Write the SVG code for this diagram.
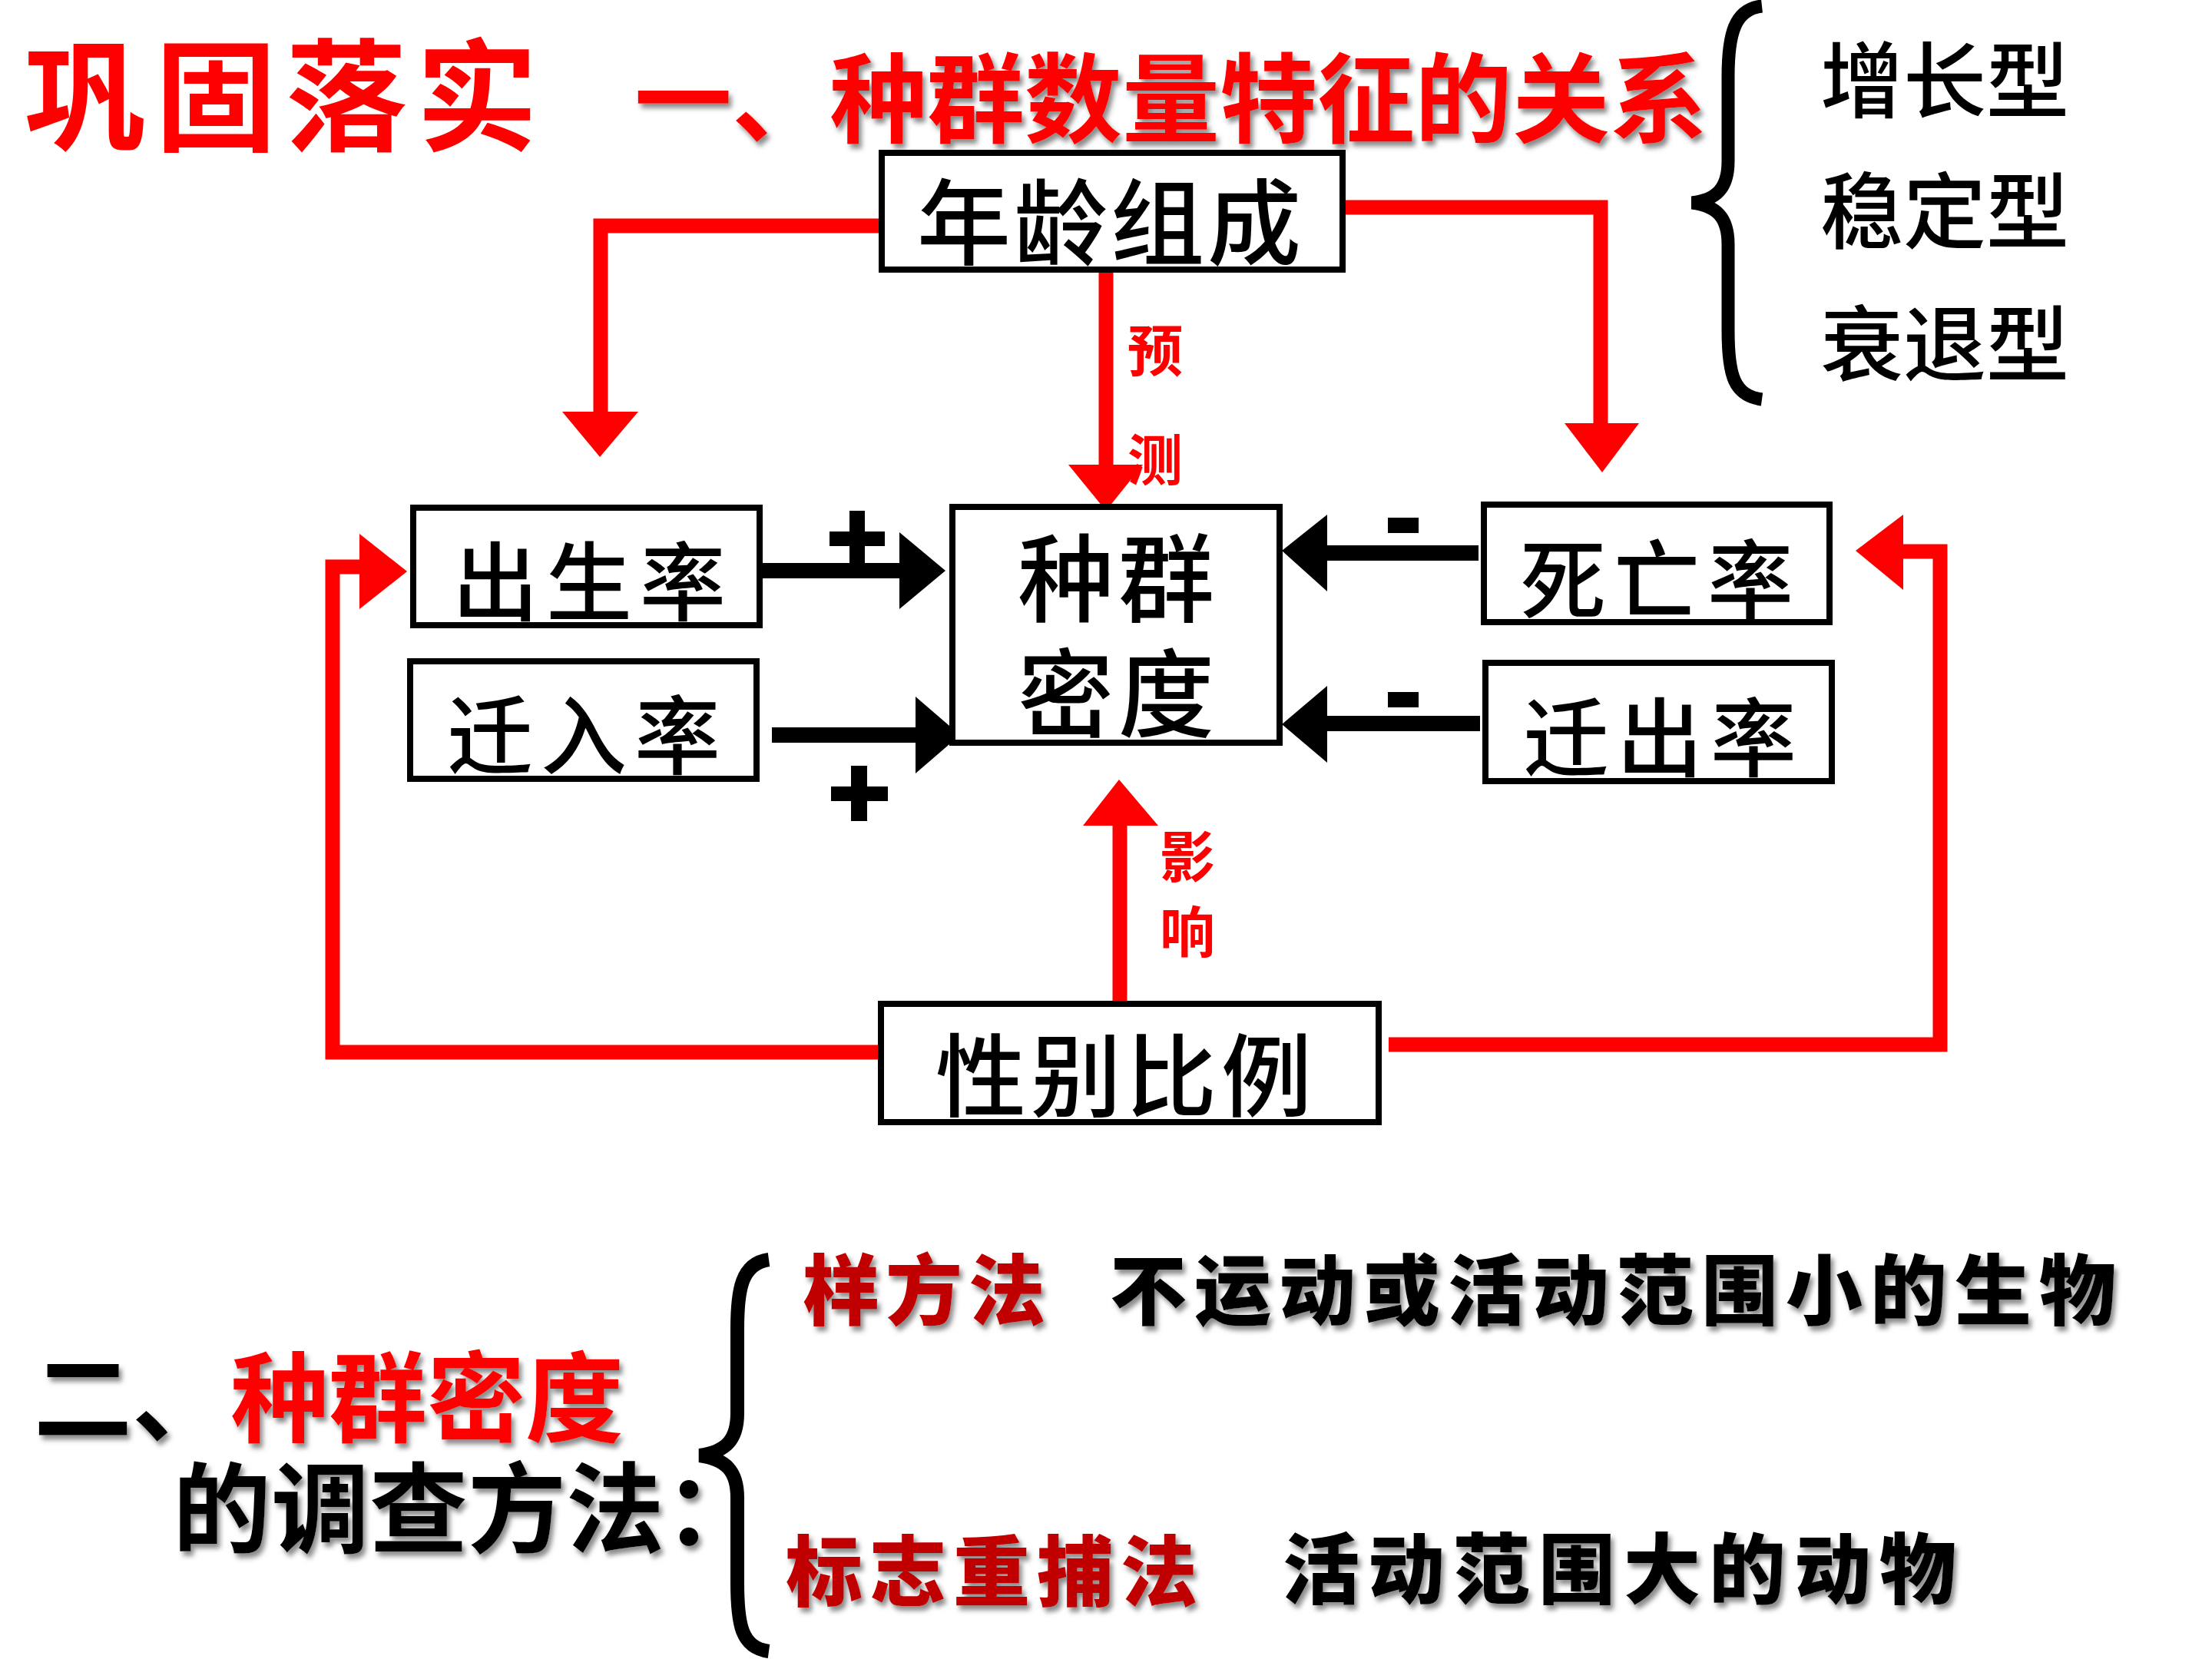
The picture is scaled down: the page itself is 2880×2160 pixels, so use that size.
<svg xmlns="http://www.w3.org/2000/svg" width="2880" height="2160" viewBox="0 0 2880 2160">
<defs>
<style>
.cjk{font-family:"Noto Sans CJK SC","Noto Sans CJK TC",sans-serif}
.box{fill:#fff;stroke:#000;stroke-width:8}
.bt{font-family:"Noto Sans CJK SC",sans-serif;font-weight:500;fill:#000;text-anchor:middle}
.red{fill:none;stroke:#f00;stroke-width:19}
.blk{fill:none;stroke:#000;stroke-width:20}
.lbl{font-family:"Noto Sans CJK SC",sans-serif;font-weight:700;fill:#f00}
.hv{font-family:"Noto Sans CJK SC",sans-serif;font-weight:900}
</style>
<filter id="sh" x="-5%" y="-20%" width="110%" height="150%">
<feDropShadow dx="4" dy="6" stdDeviation="3" flood-color="#7f7f7f" flood-opacity="0.9"/>
</filter>
</defs>
<rect width="2880" height="2160" fill="#fff"/>

<g id="title">
<text x="32" y="184" class="cjk" font-size="158" font-weight="700" fill="#f00" letter-spacing="12">巩固落实</text>
<text x="826" y="176" class="cjk" font-size="127" font-weight="700" fill="#f00" filter="url(#sh)">一、种群数量特征的关系</text>
</g>

<g id="age-types">
<path d="M2294,8 C2258,12 2250,45 2250,100 V210 C2250,245 2235,260 2203,264 C2235,268 2250,283 2250,318 V430 C2250,490 2258,515 2294,520" fill="none" stroke="#000" stroke-width="17"/>
<text x="2532" y="145" class="bt" font-size="108">增长型</text>
<text x="2532" y="315" class="bt" font-size="108">稳定型</text>
<text x="2532" y="488" class="bt" font-size="108">衰退型</text>
</g>

<g id="connectors">
<!-- age -> birth -->
<path class="red" d="M1144,294 H782 V540"/>
<polygon points="732,536 831,536 781,595" fill="#f00"/>
<!-- age -> death -->
<path class="red" d="M1752,270 H2084 V555"/>
<polygon points="2037,551 2134,551 2086,615" fill="#f00"/>
<!-- age -> density -->
<path class="red" d="M1440,355 V610"/>
<polygon points="1391,605 1488,605 1440,665" fill="#f00"/>
<!-- sex -> density -->
<path class="red" d="M1458,1306 V1070"/>
<polygon points="1410,1075 1508,1075 1457,1015" fill="#f00"/>
<!-- sex -> birth -->
<path class="red" d="M1146,1370 H433 V738 H472"/>
<polygon points="468,695 468,793 530,744" fill="#f00"/>
<!-- sex -> death -->
<path class="red" d="M1808,1360 H2526 V718 H2474"/>
<polygon points="2478,670 2478,768 2416,717" fill="#f00"/>
<!-- birth -> density -->
<path class="blk" d="M990,743 H1175"/>
<polygon points="1171,693 1171,793 1231,743" fill="#000"/>
<rect x="1106" y="665" width="20" height="75" fill="#000"/>
<rect x="1080" y="692" width="72" height="19" fill="#000"/>
<!-- immigration -> density -->
<path class="blk" d="M1005,957 H1196"/>
<polygon points="1192,907 1192,1007 1250,957" fill="#000"/>
<rect x="1108" y="997" width="21" height="72" fill="#000"/>
<rect x="1082" y="1024" width="74" height="19" fill="#000"/>
<!-- death -> density -->
<path class="blk" d="M1925,720 H1724"/>
<polygon points="1728,670 1728,770 1669,717" fill="#000"/>
<rect x="1807" y="674" width="40" height="20" fill="#000"/>
<!-- emigration -> density -->
<path class="blk" d="M1927,942 H1724"/>
<polygon points="1728,893 1728,993 1669,943" fill="#000"/>
<rect x="1807" y="901" width="40" height="20" fill="#000"/>
<text x="1468" y="483" class="lbl" font-size="72">预</text>
<text x="1468" y="625" class="lbl" font-size="72">测</text>
<text x="1510" y="1142" class="lbl" font-size="72">影</text>
<text x="1510" y="1240" class="lbl" font-size="72">响</text>
</g>

<g id="age">
<rect class="box" x="1148" y="199" width="600" height="152"/>
<text x="1446" y="335" class="bt" font-size="122" letter-spacing="4">年龄组成</text>
</g>
<g id="birth">
<rect class="box" x="538" y="661" width="451" height="153"/>
<text x="772" y="800" class="bt" font-size="112" letter-spacing="10">出生率</text>
</g>
<g id="immigration">
<rect class="box" x="534" y="861" width="451" height="153"/>
<text x="765" y="1000" class="bt" font-size="112" letter-spacing="10">迁入率</text>
</g>
<g id="density">
<rect class="box" x="1240" y="660" width="426" height="307"/>
<text x="1456" y="800" class="bt" font-size="125" letter-spacing="6">种群</text>
<text x="1456" y="950" class="bt" font-size="125" letter-spacing="6">密度</text>
</g>
<g id="death">
<rect class="box" x="1932" y="657" width="450" height="153"/>
<text x="2162" y="797" class="bt" font-size="112" letter-spacing="10">死亡率</text>
</g>
<g id="emigration">
<rect class="box" x="1934" y="863" width="451" height="154"/>
<text x="2166" y="1003" class="bt" font-size="112" letter-spacing="10">迁出率</text>
</g>
<g id="sex">
<rect class="box" x="1147" y="1307" width="648" height="154"/>
<text x="1466" y="1445" class="bt" font-size="118" letter-spacing="6">性别比例</text>
</g>

<g id="methods">
<text x="44" y="1868" class="cjk" font-size="128" font-weight="700" fill="#000" filter="url(#sh)">二、<tspan fill="#f00">种群密度</tspan></text>
<text x="225" y="2012" class="cjk" font-size="128" font-weight="700" fill="#000" filter="url(#sh)">的调查方法：</text>
<path d="M1001,1640 C965,1645 960,1680 960,1730 V1840 C960,1875 945,1890 911,1895 C945,1900 960,1915 960,1950 V2060 C960,2115 965,2145 1001,2150" fill="none" stroke="#000" stroke-width="18"/>
<text x="1045" y="1717" class="hv" font-size="100" letter-spacing="8" fill="#c00000" filter="url(#sh)">样方法</text>
<text x="1445" y="1717" class="hv" font-size="100" letter-spacing="10" fill="#000" filter="url(#sh)">不运动或活动范围小的生物</text>
<text x="1023" y="2083" class="hv" font-size="100" letter-spacing="9" fill="#c00000" filter="url(#sh)">标志重捕法</text>
<text x="1670" y="2080" class="hv" font-size="100" letter-spacing="11" fill="#000" filter="url(#sh)">活动范围大的动物</text>
</g>
</svg>
